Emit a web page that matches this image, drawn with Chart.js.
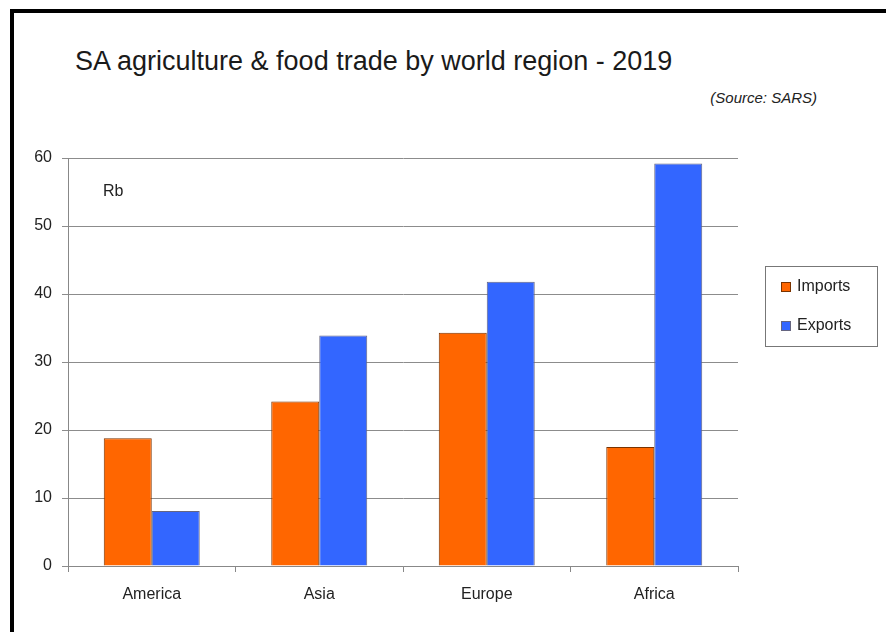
<!DOCTYPE html>
<html>
<head>
<meta charset="utf-8">
<script src="https://cdn.jsdelivr.net/npm/chart.js@4.4.1/dist/chart.umd.min.js"></script>
<style>
    body { margin: 0; background: #fff; }
    #wrap { position: relative; width: 886px; height: 632px; overflow: hidden; font-family: "Liberation Sans", Arial, sans-serif; }
    #frame { position: absolute; left: 10px; top: 9px; width: 900px; height: 700px; border-left: 4px solid #000; border-top: 4px solid #000; }
    #title { position: absolute; left: 75px; top: 48px; font-size: 27px; line-height: 1; color: #1a1a1a; white-space: nowrap; }
    #source { position: absolute; right: 69px; top: 90px; font-size: 15px; line-height: 1; font-style: italic; color: #222; white-space: nowrap; }
    canvas { position: absolute; left: 0; top: 0; }
</style>
</head>
<body>
<div id="wrap">
    <div id="frame"></div>
    <div id="title">SA agriculture &amp; food trade by world region - 2019</div>
    <div id="source">(Source: SARS)</div>
    <canvas id="trade-canvas" width="886" height="632"></canvas>
</div>
<script>
const regions = ['America', 'Asia', 'Europe', 'Africa'];
const imports = [18.8, 24.2, 34.3, 17.5];
const exports = [8.1, 33.9, 41.8, 59.2];
const unitLabel = 'Rb';

const FONT = '"Liberation Sans", Arial, sans-serif';

// legend box + unit label drawn on the canvas
const extras = {
    id: 'extras',
    afterDraw(chart) {
        const ctx = chart.ctx;
        const y = chart.scales.y;
        ctx.save();
        ctx.font = '16px ' + FONT;
        ctx.fillStyle = '#222';
        ctx.textBaseline = 'middle';
        ctx.textAlign = 'left';
        ctx.fillText(unitLabel, chart.chartArea.left + 35, y.getPixelForValue(55.1));

        ctx.strokeStyle = '#777';
        ctx.lineWidth = 1;
        ctx.strokeRect(765.5, 266.5, 112, 80);
        chart.data.datasets.forEach((ds, i) => {
            const cy = 287 + i * 39;
            ctx.fillStyle = ds.backgroundColor;
            ctx.fillRect(781, cy - 5, 10, 10);
            ctx.strokeStyle = ds.borderColor;
            ctx.strokeRect(781.5, cy - 4.5, 9, 9);
            ctx.fillStyle = '#222';
            ctx.fillText(ds.label, 797, cy);
        });
        ctx.restore();
    }
};

new Chart(document.getElementById('trade-canvas').getContext('2d'), {
    type: 'bar',
    data: {
        labels: regions,
        datasets: [
            {
                label: 'Imports',
                data: imports,
                backgroundColor: '#FF6600',
                borderColor: '#7a3300',
                borderWidth: 1
            },
            {
                label: 'Exports',
                data: exports,
                backgroundColor: '#3366FF',
                borderColor: '#666680',
                borderWidth: 1
            }
        ]
    },
    options: {
        responsive: false,
        animation: false,
        layout: { padding: { left: 0, right: 148, top: 158, bottom: 26 } },
        datasets: { bar: { categoryPercentage: 0.573, barPercentage: 1.0 } },
        plugins: {
            legend: { display: false },
            title: { display: false },
            tooltip: { enabled: false }
        },
        scales: {
            x: {
                grid: { drawOnChartArea: false, drawTicks: true, tickLength: 6, color: '#888' },
                border: { color: '#888' },
                ticks: { color: '#222', font: { family: FONT, size: 16 }, padding: 13 },
                afterFit(scale) { scale.height = 40; }
            },
            y: {
                min: 0,
                max: 60,
                grid: { color: '#8c8c8c', tickLength: 6 },
                border: { color: '#888' },
                ticks: { stepSize: 10, color: '#222', font: { family: FONT, size: 16 }, padding: 10 },
                afterFit(scale) { scale.width = 68; }
            }
        }
    },
    plugins: [extras]
});
</script>
</body>
</html>
